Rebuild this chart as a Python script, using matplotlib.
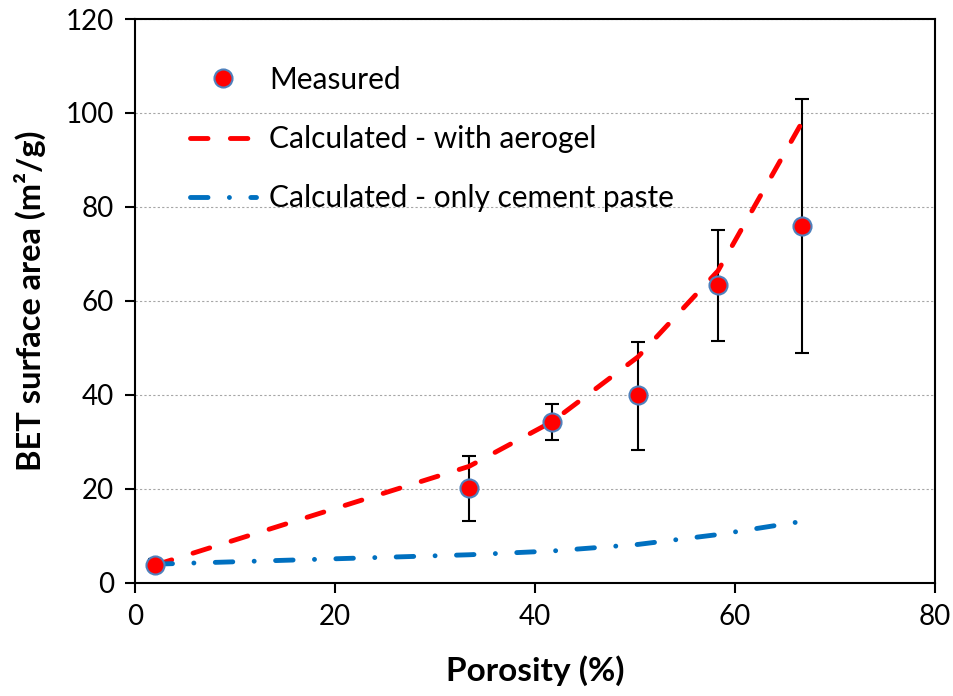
import matplotlib.pyplot as plt
import numpy as np

# measured BET surface area vs porosity
porosity = [2.0, 33.4, 41.7, 50.3, 58.3, 66.7]
bet_measured = [3.8, 20.2, 34.3, 40.0, 63.3, 76.0]
err_low = [1.2, 7.0, 3.9, 11.7, 11.8, 27.1]
err_high = [1.2, 6.8, 3.8, 11.3, 11.8, 26.9]

# calculated curves
calc_aerogel = [3.8, 24.8, 34.3, 48.1, 66.4, 98.0]
calc_paste = [4.0, 6.0, 6.8, 8.2, 10.3, 13.1]

plt.rcParams['font.family'] = ['Lato', 'DejaVu Sans']

fig = plt.figure(figsize=(9.54, 6.96), dpi=100)
ax = fig.add_axes([0.1415, 0.1624, 0.8385, 0.8103])

ax.errorbar(porosity, bet_measured, yerr=[err_low, err_high], fmt='none',
            ecolor='black', elinewidth=1.5, capsize=5, capthick=1.5, zorder=2)

lw = 3.5
ax.plot(porosity, calc_aerogel, color='#FF0000', lw=lw, dashes=(3.6, 4.6),
        dash_capstyle='round', label='Calculated - with aerogel', zorder=3)
ax.plot(porosity, calc_paste, color='#0070C0', lw=lw, dashes=(3.6, 4.4, 0.01, 4.4),
        dash_capstyle='round', label='Calculated - only cement paste', zorder=3)
ax.plot(porosity, bet_measured, 'o', color='#FF0000', markeredgecolor='#4F81BD',
        markeredgewidth=1.5, markersize=13, label='Measured', zorder=4)

ax.set_xlim(0, 80)
ax.set_ylim(0, 120)
ax.set_xticks([0, 20, 40, 60, 80])
ax.set_yticks([0, 20, 40, 60, 80, 100, 120])
ax.yaxis.grid(True, color='#A6A6A6', linestyle=(0, (2, 2)), linewidth=0.8)
ax.set_axisbelow(True)

for s in ax.spines.values():
    s.set_linewidth(1.5)
    s.set_color('black')
ax.tick_params(direction='out', length=7, width=1.5, labelsize=20, pad=8)

ax.set_xlabel('Porosity (%)', fontsize=24, fontweight='bold', labelpad=18)
ax.set_ylabel('BET surface area (m²/g)', fontsize=23.5, fontweight='bold', labelpad=14)

handles, labels = ax.get_legend_handles_labels()
order = [2, 0, 1]
ax.legend([handles[i] for i in order], [labels[i] for i in order],
          loc='upper left', bbox_to_anchor=(0.035, 0.965), frameon=False,
          fontsize=21.5, handlelength=2.2, handletextpad=0.45, labelspacing=1.05)

plt.savefig('out.png', dpi=100)
